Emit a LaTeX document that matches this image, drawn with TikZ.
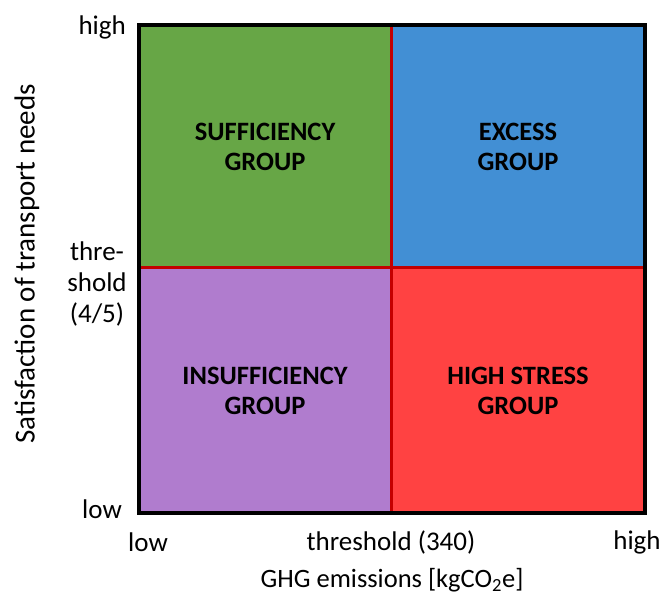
\documentclass[tikz,border=0pt]{standalone}
\usepackage{fontspec}
\setmainfont{Carlito}
\usepackage{xcolor}
\definecolor{suffgreen}{RGB}{103,166,70}
\definecolor{excessblue}{RGB}{66,143,212}
\definecolor{insuffpurple}{RGB}{176,124,206}
\definecolor{stressred}{RGB}{255,66,66}
\definecolor{dividerred}{RGB}{196,0,0}
\usepackage{tikz}
\usetikzlibrary{positioning}

\tikzset{
  quad/.style={inner sep=0pt,minimum width=252pt,align=center,
    font=\fontsize{26.5}{30}\selectfont\bfseries},
  axislabel/.style={inner sep=0pt,align=center,
    font=\fontsize{27}{31}\selectfont},
}

\begin{document}
\begin{tikzpicture}[x=1pt,y=-1pt]
\useasboundingbox (0,0) rectangle (662,597);
% the four groups
\node (suff) [quad,fill=suffgreen,minimum height=243pt] at (265,146.5) {SUFFICIENCY\\GROUP};
\node (excess) [quad,fill=excessblue,minimum width=254pt,minimum height=243pt] at (518,146.5) {EXCESS\\GROUP};
\node (insuff) [quad,fill=insuffpurple,minimum height=245pt] at (265,390.5) {INSUFFICIENCY\\GROUP};
\node (stress) [quad,fill=stressred,minimum width=254pt,minimum height=245pt] at (518,390.5) {HIGH STRESS\\GROUP};
% thresholds and frame
\draw[dividerred,line width=3pt] (suff.north east) -- (insuff.south east);
\draw[dividerred,line width=3pt] (insuff.north west) -- (stress.north east);
\draw[line width=4pt] (suff.north west) rectangle (stress.south east);
% y axis
\node (yhigh) [axislabel,anchor=east] at (126,27) {high};
\node (ythr) [axislabel] at (97,284) {thre-\\shold\\(4/5)};
\node (ylow) [axislabel,anchor=east] at (122,509) {low};
\node (ytitle) [axislabel,rotate=90,font=\fontsize{29}{33}\selectfont] at (27,264) {Satisfaction of transport needs};
% x axis
\node (xlow) [axislabel] at (148,542) {low};
\node (xthr) [axislabel] at (391,542) {threshold (340)};
\node (xhigh) [axislabel] at (637,542) {high};
\node (xtitle) [axislabel,font=\fontsize{26.5}{30}\selectfont] at (392,580) {GHG emissions [kgCO\textsubscript{2}e]};
\end{tikzpicture}
\end{document}
